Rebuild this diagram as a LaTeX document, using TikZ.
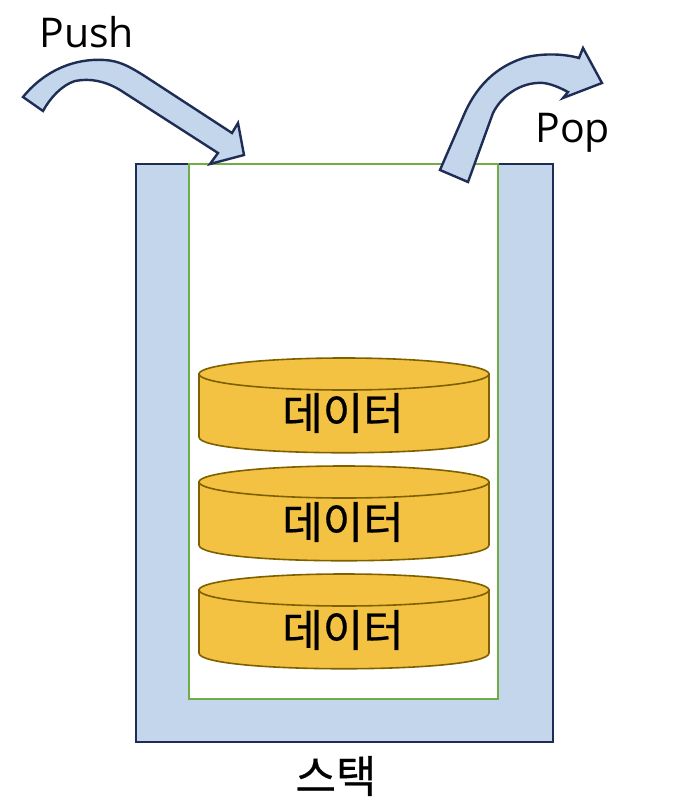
\documentclass[tikz,border=0pt]{standalone}
\usepackage{fontspec}
\setmainfont{Open Sans}
\newfontfamily\kofont[FakeBold=0.6]{Noto Sans CJK KR}
\definecolor{navy}{HTML}{1F2D55}
\definecolor{wallblue}{HTML}{C3D6EB}
\definecolor{slotgreen}{HTML}{70AD47}
\definecolor{diskgold}{HTML}{F4C242}
\definecolor{diskbrown}{HTML}{7F6000}

\begin{document}
\begin{tikzpicture}[x=0.5pt,y=-0.5pt,inner sep=0pt,
  wall/.style={draw=navy,fill=wallblue,line width=1.2pt,line join=miter},
  slot/.style={draw=slotgreen,line width=1pt,fill=white},
  disk/.style={draw=diskbrown,fill=diskgold,line width=0.8pt},
  wordtext/.style={font=\fontsize{20.5}{24}\selectfont},
  kotext/.style={font=\kofont\fontsize{22}{26}\selectfont}]
\useasboundingbox (0,0) rectangle (682,808);

% container
\draw[wall] (136,164) -- (189,164) -- (189,699) -- (498,699) -- (498,164) -- (553,164) -- (553,742) -- (136,742) -- cycle;
\draw[slot] (189,164) rectangle (498,699);
\node[kotext] (stk) at (336,776) {스택};

% data disks
\path[disk] (199,374) -- (199,437) .. controls (199,458) and (489,458) .. (489,437) -- (489,374) -- cycle;
\draw[disk] (344,374) ellipse [x radius=145, y radius=16];
\node[kotext] (d1) at (343,413) {데이터};

\path[disk] (199,482) -- (199,545) .. controls (199,566) and (489,566) .. (489,545) -- (489,482) -- cycle;
\draw[disk] (344,482) ellipse [x radius=145, y radius=16];
\node[kotext] (d2) at (343,522) {데이터};

\path[disk] (199,590) -- (199,653) .. controls (199,674) and (489,674) .. (489,653) -- (489,590) -- cycle;
\draw[disk] (344,590) ellipse [x radius=145, y radius=16];
\node[kotext] (d3) at (343,630) {데이터};

% push / pop arrows
\draw[wall] (23,97) .. controls (45,70) and (75,58) .. (105,60) .. controls (120,61) and (130,67) .. (143,75) -- (232,133) -- (238,123) -- (244,155) -- (210,164) -- (218,153) -- (120,90) .. controls (105,81) and (90,78) .. (75,81) .. controls (62,85) and (50,98) .. (43,111) -- cycle;
\node[wordtext,anchor=base west] (push) at (39,48) {Push};

\draw[wall] (440,170) -- (463,117) .. controls (475,88) and (495,66) .. (527,57) .. controls (545,53) and (565,54) .. (579,58) -- (583,48) -- (602,83) -- (563,98) -- (568,92) .. controls (555,85) and (545,82) .. (537,83) .. controls (520,84) and (502,95) .. (493,113) -- (468,182) -- cycle;
\node[wordtext,anchor=base west] (pop) at (535,142) {Pop};
\end{tikzpicture}
\end{document}
